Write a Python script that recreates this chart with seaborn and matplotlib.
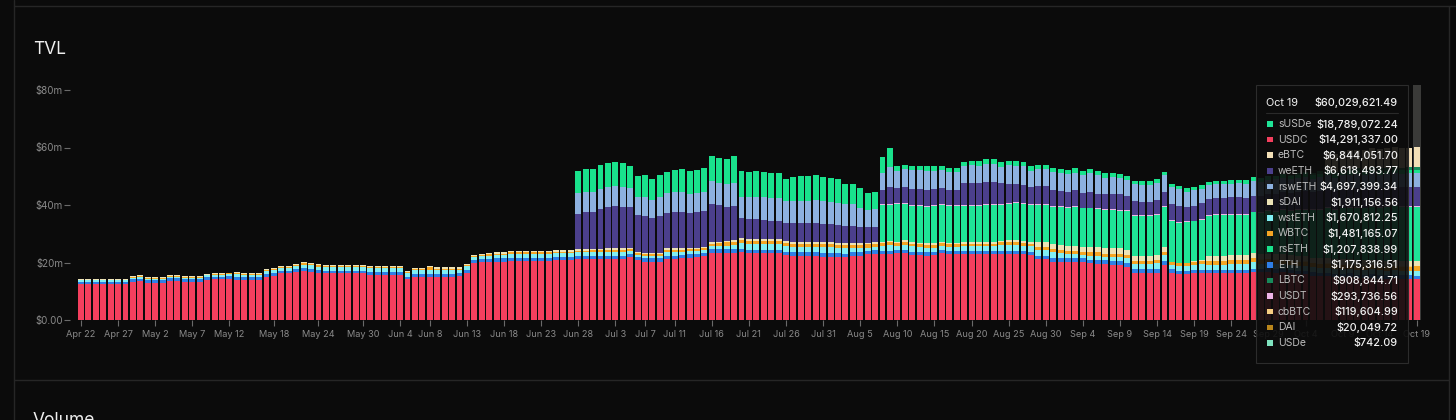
import matplotlib
matplotlib.use("Agg")
import matplotlib.pyplot as plt
from matplotlib.patches import Rectangle
from matplotlib.lines import Line2D
import seaborn as sns
import pandas as pd

# one bar per day
days = pd.date_range("2024-04-22", "2024-10-19", freq="D")
day_labels = [f"{d:%b} {d.day}" for d in days]

tick_labels = ["Apr 22", "Apr 27", "May 2", "May 7", "May 12", "May 18", "May 24",
               "May 30", "Jun 4", "Jun 8", "Jun 13", "Jun 18", "Jun 23", "Jun 28",
               "Jul 3", "Jul 7", "Jul 11", "Jul 16", "Jul 21", "Jul 26", "Jul 31",
               "Aug 5", "Aug 10", "Aug 15", "Aug 20", "Aug 25", "Aug 30", "Sep 4",
               "Sep 9", "Sep 14", "Sep 19", "Sep 24", "Sep 29", "Oct 4", "Oct 9",
               "Oct 14", "Oct 19"]

# TVL per asset in $m, one value per day starting Apr 22
usdc = [12.4, 12.4, 12.4, 12.4, 12.4, 12.4, 12.4, 13.1, 13.4, 12.9,
        12.9, 12.9, 13.7, 13.7, 13.2, 13.2, 13.2, 14.0, 14.2, 14.1,
        14.2, 14.0, 14.0, 14.0, 14.0, 15.1, 15.4, 16.2, 16.2, 16.8,
        17.0, 16.7, 16.2, 16.2, 16.2, 16.2, 16.2, 16.2, 16.2, 15.8,
        15.8, 15.8, 15.8, 15.8, 14.2, 15.1, 15.1, 15.1, 15.1, 15.1,
        15.1, 15.3, 16.5, 19.7, 20.3, 20.3, 20.3, 20.3, 20.6, 20.6,
        20.6, 20.6, 20.6, 20.6, 20.9, 20.9, 20.9, 21.1, 21.1, 21.1,
        21.1, 21.2, 21.2, 21.2, 21.8, 20.9, 20.3, 20.3, 20.3, 21.2,
        21.3, 21.6, 21.7, 21.8, 22.3, 23.4, 23.4, 23.4, 23.4, 23.5,
        23.2, 23.2, 23.2, 23.2, 23.2, 22.6, 22.3, 22.3, 22.3, 22.3,
        22.0, 22.0, 22.0, 21.8, 22.3, 22.3, 22.8, 23.0, 23.0, 23.0,
        23.2, 23.4, 22.6, 22.6, 22.4, 22.6, 23.2, 23.0, 23.0, 23.0,
        23.0, 23.0, 23.0, 23.0, 23.0, 23.0, 23.0, 23.0, 22.6, 21.1,
        21.1, 20.3, 20.3, 20.3, 20.3, 20.1, 19.7, 19.5, 19.4, 19.1,
        19.1, 18.5, 16.5, 16.5, 16.5, 16.5, 19.1, 16.5, 15.9, 15.9,
        16.2, 16.2, 16.2, 16.2, 16.2, 16.2, 16.2, 16.2, 16.6, 16.7,
        16.8, 16.5, 16.6, 16.2, 15.9, 16.0, 15.4, 15.2, 15.3, 14.9,
        14.8, 15.0, 14.6, 14.5, 14.7, 14.4, 14.3, 14.5, 14.3, 14.3,
        14.29]
eth = [0.9, 0.9, 0.9, 0.9, 0.9, 0.9, 0.9, 1.0, 1.0, 0.9,
       0.9, 0.9, 0.9, 0.9, 0.9, 0.9, 0.9, 0.9, 0.9, 0.9,
       1.0, 1.0, 1.0, 1.0, 1.0, 1.0, 1.0, 1.0, 1.0, 1.0,
       1.1, 1.1, 1.1, 1.0, 1.0, 1.0, 1.0, 1.0, 1.0, 1.0,
       1.0, 1.0, 1.0, 1.0, 0.9, 1.0, 1.0, 1.0, 1.0, 1.0,
       1.0, 1.0, 1.0, 1.0, 1.0, 1.0, 1.1, 1.1, 1.1, 1.1,
       1.1, 1.1, 1.1, 1.1, 1.1, 1.1, 1.1, 1.1, 1.1, 1.1,
       1.1, 1.1, 1.1, 1.1, 1.1, 1.1, 1.1, 1.1, 1.1, 1.1,
       1.1, 1.1, 1.1, 1.1, 1.1, 1.2, 1.2, 1.2, 1.2, 1.2,
       1.2, 1.2, 1.2, 1.2, 1.2, 1.2, 1.2, 1.2, 1.2, 1.2,
       1.2, 1.2, 1.2, 1.2, 1.2, 1.2, 1.2, 1.2, 1.1, 1.1,
       1.1, 1.1, 1.1, 1.1, 1.1, 1.1, 1.1, 1.1, 1.1, 1.1,
       1.1, 1.1, 1.1, 1.1, 1.1, 1.1, 1.1, 1.1, 1.1, 1.3,
       1.3, 1.3, 1.3, 1.3, 1.3, 1.3, 1.3, 1.3, 1.3, 1.3,
       1.3, 1.3, 1.3, 1.3, 1.3, 1.3, 1.3, 1.2, 1.2, 1.2,
       1.2, 1.2, 1.2, 1.2, 1.2, 1.2, 1.2, 1.2, 1.2, 1.2,
       1.2, 1.2, 1.2, 1.2, 1.2, 1.2, 1.2, 1.2, 1.2, 1.2,
       1.2, 1.2, 1.2, 1.2, 1.2, 1.2, 1.2, 1.2, 1.2, 1.2,
       1.18]
wsteth = [0.5, 0.5, 0.5, 0.5, 0.5, 0.5, 0.5, 0.6, 0.7, 0.6,
          0.6, 0.6, 0.5, 0.5, 0.6, 0.6, 0.6, 0.6, 0.6, 0.7,
          0.7, 0.9, 0.8, 0.8, 0.8, 0.9, 1.0, 1.0, 1.0, 1.0,
          1.2, 1.2, 1.3, 1.2, 1.2, 1.2, 1.2, 1.2, 1.2, 1.3,
          1.3, 1.3, 1.3, 1.3, 1.2, 1.2, 1.2, 1.3, 1.3, 1.3,
          1.3, 1.2, 1.2, 1.1, 1.0, 1.1, 1.2, 1.2, 1.3, 1.3,
          1.3, 1.3, 1.3, 1.3, 1.3, 1.3, 1.3, 1.3, 1.3, 1.4,
          1.5, 1.5, 1.5, 1.5, 1.2, 0.7, 0.9, 0.9, 0.9, 1.5,
          1.4, 1.1, 1.3, 1.2, 1.0, 1.3, 1.0, 1.3, 1.5, 2.0,
          2.0, 2.0, 2.0, 2.0, 2.0, 2.0, 2.0, 2.0, 2.0, 2.0,
          2.2, 2.1, 1.9, 2.0, 1.5, 1.5, 1.2, 1.1, 1.6, 1.9,
          1.4, 1.7, 1.9, 1.6, 1.6, 1.4, 1.4, 1.2, 1.2, 1.5,
          1.5, 1.5, 1.5, 1.5, 1.9, 2.1, 2.1, 1.8, 1.9, 2.0,
          2.0, 1.9, 1.6, 1.2, 1.2, 1.2, 1.4, 1.6, 1.3, 1.6,
          1.6, 1.6, 1.6, 1.6, 1.6, 1.9, 2.2, 1.5, 1.7, 1.7,
          1.8, 2.1, 1.8, 1.8, 1.8, 2.1, 2.1, 2.1, 2.3, 1.7,
          1.7, 1.7, 1.7, 1.7, 1.7, 1.7, 1.7, 1.7, 1.7, 1.7,
          1.7, 1.7, 1.7, 1.7, 1.7, 1.7, 1.7, 1.7, 1.7, 1.7,
          1.67]
wbtc = [0.2, 0.2, 0.2, 0.2, 0.2, 0.2, 0.2, 0.3, 0.3, 0.3,
        0.3, 0.3, 0.3, 0.3, 0.3, 0.3, 0.3, 0.3, 0.3, 0.3,
        0.3, 0.4, 0.3, 0.3, 0.3, 0.3, 0.3, 0.4, 0.4, 0.4,
        0.4, 0.4, 0.5, 0.4, 0.4, 0.4, 0.4, 0.4, 0.4, 0.4,
        0.4, 0.4, 0.4, 0.4, 0.4, 0.4, 0.4, 0.9, 0.5, 0.5,
        0.5, 0.4, 0.4, 0.4, 0.4, 0.4, 0.5, 0.5, 0.5, 0.5,
        0.5, 0.5, 0.5, 0.5, 0.5, 0.5, 0.5, 0.6, 0.6, 0.6,
        0.6, 0.6, 0.6, 0.6, 0.6, 0.6, 0.6, 0.6, 0.6, 0.6,
        0.6, 0.6, 0.6, 0.6, 0.6, 0.7, 1.1, 1.1, 1.1, 1.1,
        1.1, 1.1, 1.1, 1.1, 1.1, 1.1, 1.1, 1.1, 1.1, 1.1,
        1.1, 1.1, 1.1, 1.1, 1.1, 1.1, 1.1, 1.1, 1.0, 1.0,
        1.0, 1.0, 1.0, 1.0, 1.0, 1.0, 1.0, 1.0, 1.0, 1.0,
        1.0, 1.0, 1.0, 1.0, 1.0, 1.0, 1.0, 1.0, 1.0, 1.1,
        1.1, 1.1, 1.1, 1.1, 1.1, 1.1, 1.1, 1.1, 1.1, 1.1,
        1.1, 1.1, 1.1, 1.1, 1.1, 1.1, 1.1, 1.0, 1.0, 1.0,
        1.0, 1.0, 1.3, 1.3, 1.3, 1.3, 1.3, 1.3, 1.3, 1.4,
        1.4, 1.4, 1.4, 1.4, 1.4, 1.4, 1.4, 1.4, 1.4, 1.4,
        1.4, 1.4, 1.4, 1.4, 1.4, 1.4, 1.4, 1.4, 1.4, 1.4,
        1.48]
sdai = [0.2, 0.2, 0.2, 0.2, 0.2, 0.2, 0.2, 0.2, 0.3, 0.2,
        0.2, 0.2, 0.2, 0.2, 0.2, 0.2, 0.2, 0.2, 0.2, 0.3,
        0.3, 0.3, 0.3, 0.3, 0.3, 0.3, 0.3, 0.3, 0.3, 0.3,
        0.4, 0.4, 0.4, 0.3, 0.3, 0.3, 0.3, 0.3, 0.3, 0.4,
        0.4, 0.4, 0.4, 0.4, 0.3, 0.3, 0.3, 0.4, 0.4, 0.4,
        0.4, 0.4, 0.4, 0.3, 0.3, 0.4, 0.4, 0.4, 0.5, 0.5,
        0.5, 0.5, 0.5, 0.5, 0.5, 0.5, 0.5, 0.5, 0.5, 0.5,
        0.5, 0.5, 0.5, 0.5, 0.5, 0.5, 0.5, 0.5, 0.5, 0.5,
        0.5, 0.5, 0.5, 0.5, 0.5, 0.5, 0.6, 0.6, 0.6, 0.6,
        0.6, 0.6, 0.6, 0.6, 0.6, 0.6, 0.6, 0.6, 0.6, 0.6,
        0.6, 0.6, 0.6, 0.6, 0.6, 0.6, 0.6, 0.6, 0.6, 0.6,
        0.6, 0.6, 0.6, 0.6, 0.6, 0.6, 0.6, 0.6, 0.6, 0.6,
        0.6, 0.6, 0.6, 0.6, 0.6, 0.6, 0.6, 0.6, 0.6, 1.8,
        1.8, 1.8, 1.8, 1.8, 1.8, 1.8, 1.8, 1.8, 1.8, 1.8,
        1.8, 1.8, 1.8, 1.8, 1.8, 1.8, 1.8, 0.1, 0.1, 0.1,
        0.1, 0.1, 1.8, 1.8, 1.8, 1.8, 1.8, 1.8, 1.8, 1.9,
        1.9, 1.9, 1.9, 1.9, 1.9, 1.9, 1.9, 1.9, 1.9, 1.9,
        1.9, 1.9, 1.9, 1.9, 1.9, 1.9, 1.9, 1.9, 1.9, 1.9,
        1.91]

# assets listed later: first day, then daily values in $m
weeth_start = "Jun 28"
weeth = [12.3, 13.1, 13.0, 13.7, 14.5, 14.7, 14.5, 14.2, 12.6, 12.8,
         12.2, 12.8, 12.4, 12.8, 12.8, 11.9, 12.2, 12.5, 13.3, 12.7,
         11.8, 11.8, 7.0, 7.0, 7.0, 6.7, 6.5, 6.5, 6.4, 6.6,
         6.6, 6.6, 6.4, 6.3, 6.4, 6.2, 6.0, 6.0, 5.8, 5.3,
         5.5, 4.7, 6.1, 5.3, 5.4, 5.5, 5.5, 5.5, 5.5, 5.6,
         5.1, 5.1, 7.4, 7.7, 7.4, 7.8, 7.8, 7.2, 6.7, 6.4,
         6.3, 6.1, 6.1, 6.1, 5.5, 5.5, 5.2, 5.5, 5.2, 5.5,
         5.2, 5.2, 5.4, 5.4, 4.8, 4.9, 4.7, 4.7, 4.9, 4.9,
         5.5, 5.7, 4.9, 5.2, 5.5, 5.5, 5.5, 5.5, 5.8, 5.8,
         5.5, 5.5, 5.6, 5.7, 5.9, 6.0, 5.8, 6.1, 6.2, 6.0,
         6.3, 6.4, 6.2, 6.5, 6.4, 6.6, 6.5, 6.7, 6.6, 6.5,
         6.6, 6.7, 6.6, 6.62]
rsweth_start = "Jun 28"
rsweth = [7.1, 6.7, 6.9, 7.1, 7.0, 7.1, 7.0, 6.4, 6.3, 6.5,
          6.1, 6.5, 6.7, 6.7, 6.9, 6.9, 6.6, 6.6, 7.8, 7.6,
          7.8, 7.9, 7.5, 7.8, 7.8, 7.9, 7.8, 7.8, 7.4, 7.6,
          7.6, 7.7, 8.1, 8.0, 7.8, 7.6, 7.5, 7.5, 6.6, 6.1,
          6.0, 6.0, 6.7, 6.0, 6.4, 6.6, 6.8, 6.7, 6.4, 6.4,
          6.2, 6.2, 6.2, 6.1, 6.2, 6.2, 6.2, 5.8, 6.4, 6.4,
          6.4, 5.5, 6.0, 6.0, 6.2, 6.0, 6.1, 6.1, 6.1, 6.4,
          6.4, 5.7, 5.6, 5.6, 5.6, 5.8, 5.8, 5.8, 5.8, 5.8,
          5.9, 5.7, 5.2, 5.4, 4.9, 4.7, 4.9, 4.9, 4.7, 4.9,
          5.0, 5.0, 5.0, 4.9, 5.1, 4.8, 4.9, 4.7, 4.8, 4.6,
          4.8, 4.7, 4.5, 4.7, 4.6, 4.8, 4.7, 4.6, 4.7, 4.8,
          4.7, 4.6, 4.7, 4.70]
rseth_start = "Jun 28"
rseth = [7.8, 8.0, 8.0, 8.2, 8.2, 8.4, 8.2, 7.8, 7.4, 7.6,
         7.3, 7.6, 7.6, 7.8, 7.9, 7.8, 8.2, 8.4, 8.7, 8.7,
         8.7, 9.5, 8.9, 8.6, 8.9, 8.8, 8.9, 8.7, 7.8, 8.2,
         8.6, 8.5, 8.6, 8.5, 8.3, 8.6, 7.2, 7.2, 6.8, 6.0,
         6.0, 5.6, 6.7, 1.5, 1.5, 1.4, 1.4, 1.7, 1.5, 1.4,
         1.6, 1.6, 1.4, 1.5, 1.6, 1.6, 1.6, 1.8, 1.6, 1.7,
         1.5, 1.7, 1.5, 1.5, 1.4, 1.5, 1.5, 1.5, 1.4, 1.4,
         1.4, 1.5, 1.4, 1.5, 1.5, 1.2, 1.2, 1.2, 1.4, 1.2,
         1.2, 1.2, 1.2, 1.1, 1.2, 1.2, 1.2, 1.2, 1.4, 1.2,
         1.4, 1.4, 1.3, 1.4, 1.3, 1.3, 1.2, 1.3, 1.3, 1.2,
         1.2, 1.3, 1.2, 1.2, 1.3, 1.2, 1.2, 1.2, 1.3, 1.2,
         1.2, 1.2, 1.2, 1.21]
susde_start = "Aug 8"
susde = [12.8, 12.4, 13.0, 12.6, 12.6, 12.8, 12.7, 13.0, 12.7, 12.9,
         12.9, 12.6, 12.6, 12.6, 12.8, 12.8, 12.4, 12.6, 12.8, 12.9,
         12.8, 12.8, 12.8, 13.0, 13.1, 13.4, 13.7, 13.3, 13.5, 13.2,
         13.4, 13.4, 13.1, 13.7, 13.9, 13.9, 13.9, 13.9, 13.9, 14.1,
         13.9, 14.3, 13.9, 14.2, 13.9, 14.2, 14.2, 13.9, 13.9, 13.9,
         14.1, 14.2, 14.7, 14.8, 15.4, 15.5, 16.0, 16.1, 16.6, 16.8,
         17.3, 17.2, 17.7, 17.8, 18.1, 18.0, 18.4, 18.3, 18.6, 18.7,
         18.6, 18.8, 18.79]
usdt_start = "Aug 8"
usdt = [0.3, 0.3, 0.3, 0.3, 0.3, 0.3, 0.3, 0.3, 0.3, 0.3,
        0.3, 0.3, 0.3, 0.3, 0.3, 0.3, 0.3, 0.3, 0.3, 0.3,
        0.3, 0.3, 0.3, 0.3, 0.3, 0.3, 0.3, 0.3, 0.3, 0.3,
        0.3, 0.3, 0.3, 0.3, 0.3, 0.3, 0.3, 0.3, 0.3, 0.3,
        0.3, 0.3, 0.3, 0.3, 0.3, 0.3, 0.3, 0.3, 0.3, 0.3,
        0.3, 0.3, 0.3, 0.3, 0.3, 0.3, 0.3, 0.3, 0.3, 0.3,
        0.3, 0.3, 0.3, 0.3, 0.3, 0.3, 0.3, 0.3, 0.3, 0.3,
        0.3, 0.3, 0.29]
cbbtc_start = "Sep 19"
cbbtc = [0.1, 0.1, 0.1, 0.1, 0.1, 0.1, 0.1, 0.1, 0.1, 0.1,
         0.1, 0.1, 0.1, 0.1, 0.1, 0.1, 0.1, 0.1, 0.1, 0.1,
         0.1, 0.1, 0.1, 0.1, 0.1, 0.1, 0.1, 0.1, 0.1, 0.1,
         0.12]
lbtc_start = "Oct 2"
lbtc = [0.4, 0.5, 0.6, 0.7, 0.8, 0.8, 0.9, 0.9, 0.9, 0.9,
        0.9, 0.9, 0.9, 0.9, 0.9, 0.9, 0.9, 0.91]
ebtc_start = "Oct 7"
ebtc = [6.2, 6.4, 6.5, 6.6, 6.5, 6.7, 6.8, 6.7, 6.8, 6.8, 6.9, 6.8, 6.84]
dai_start = "Oct 17"
dai = [0.02, 0.02, 0.02]
usde_start = "Oct 19"
usde = [0.001]

# hover tooltip for Oct 19
tip_date = "Oct 19"
tip_total = 60029621.49
tip_assets = ["sUSDe", "USDC", "eBTC", "weETH", "rswETH", "sDAI", "wstETH", "WBTC",
              "rsETH", "ETH", "LBTC", "USDT", "cbBTC", "DAI", "USDe"]
tip_values = [18789072.24, 14291337.00, 6844051.70, 6618493.77, 4697399.34,
              1911156.56, 1670812.25, 1481165.07, 1207838.99, 1175316.51,
              908844.71, 293736.56, 119604.99, 20049.72, 742.09]

palette = {
    "USDC": "#f43f5e", "ETH": "#2f7fe6", "wstETH": "#80eff4", "WBTC": "#f5a524",
    "cbBTC": "#f6cd82", "sDAI": "#ece3b6", "DAI": "#b8861b", "sUSDe": "#1fe497",
    "USDe": "#7fe3bf", "USDT": "#eeb5e8", "weETH": "#4b3f8c", "rswETH": "#8db1e0",
    "rsETH": "#19e28c", "LBTC": "#178a5b", "eBTC": "#f2dfb6",
}
# bottom -> top
stack_order = ["USDC", "ETH", "wstETH", "WBTC", "cbBTC", "sDAI", "DAI", "sUSDe",
               "USDe", "USDT", "weETH", "rswETH", "rsETH", "LBTC", "eBTC"]

series = {
    "USDC": ("Apr 22", usdc), "ETH": ("Apr 22", eth), "wstETH": ("Apr 22", wsteth),
    "WBTC": ("Apr 22", wbtc), "sDAI": ("Apr 22", sdai),
    "weETH": (weeth_start, weeth), "rswETH": (rsweth_start, rsweth),
    "rsETH": (rseth_start, rseth), "sUSDe": (susde_start, susde),
    "USDT": (usdt_start, usdt), "cbBTC": (cbbtc_start, cbbtc),
    "LBTC": (lbtc_start, lbtc), "eBTC": (ebtc_start, ebtc),
    "DAI": (dai_start, dai), "USDe": (usde_start, usde),
}
rows = []
for name, (start, vals) in series.items():
    first = day_labels.index(start)
    for k, v in enumerate(vals):
        rows.append({"day": first + k, "asset": name, "tvl": v})
df = pd.DataFrame(rows)

bg = "#0b0b0b"
W, H = 1456, 420
sns.set_theme(style="dark", rc={"axes.facecolor": bg, "figure.facecolor": bg})
plt.rcParams["font.family"] = ["Inter", "DejaVu Sans"]


def fx(x):
    return x / W


def fy(y):
    return 1 - y / H


fig = plt.figure(figsize=(W / 100, H / 100), dpi=100)
ax = fig.add_axes([fx(70), fy(320), fx(1425) - fx(70), fy(85) - fy(320)])

# hovered day highlight
ax.axvspan(179.5, 180.5, color="#3a3a38", lw=0, zorder=0)

sns.histplot(data=df, x="day", hue="asset", weights="tvl", discrete=True,
             multiple="stack", hue_order=stack_order[::-1], palette=palette,
             shrink=0.8, alpha=1, linewidth=0, legend=False, ax=ax, zorder=2)

ax.set_xlim(-1.48, 181.1)
ax.set_ylim(0, 235 / 2.875)
ax.set_xlabel("")
ax.set_ylabel("")
for s in ax.spines.values():
    s.set_visible(False)
ax.grid(False)

ax.set_yticks([0, 20, 40, 60, 80])
ax.set_yticklabels(["$0.00", "$20m", "$40m", "$60m", "$80m"])
ax.set_xticks([day_labels.index(t) for t in tick_labels])
ax.set_xticklabels(tick_labels)
ax.tick_params(axis="y", length=4, width=0.8, color="#6a6a6a", pad=1,
               labelsize=7, labelcolor="#8a8a8a", left=True)
ax.tick_params(axis="x", length=4, width=0.8, color="#6a6a6a", pad=3,
               labelsize=6.6, labelcolor="#8a8a8a", bottom=True)

# panel frame
line_c = "#262626"
fig.add_artist(Line2D([fx(14), 1], [fy(6), fy(6)], color=line_c, lw=1))
fig.add_artist(Line2D([fx(14), fx(14)], [0, 1], color=line_c, lw=1))
fig.add_artist(Line2D([fx(1449), fx(1449)], [0, fy(6)], color=line_c, lw=1))
fig.add_artist(Line2D([fx(14), fx(1449)], [fy(380), fy(380)], color=line_c, lw=1))

fig.text(fx(33), fy(54), "TVL", color="#efefef", size=12.5, va="baseline")
fig.text(fx(33), fy(425), "Volume", color="#efefef", size=12.5, va="baseline")

# tooltip
fig.add_artist(Rectangle((fx(1256), fy(363)), fx(152), fy(85) - fy(363),
                         transform=fig.transFigure, facecolor="#0d0d0d",
                         alpha=0.9, edgecolor="none", zorder=5))
fig.add_artist(Rectangle((fx(1256), fy(363)), fx(152), fy(85) - fy(363),
                         transform=fig.transFigure, facecolor="none",
                         edgecolor="#2c2c2c", lw=0.8, zorder=6))
fig.text(fx(1266), fy(103), tip_date, color="#f2f2f2", size=7.8, va="center",
         ha="left", zorder=7)
fig.text(fx(1398), fy(103), f"${tip_total:,.2f}", color="#f2f2f2", size=7.8,
         va="center", ha="right", weight="medium", zorder=7)
fig.add_artist(Line2D([fx(1266), fx(1398)], [fy(113), fy(113)], color="#2a2a2a",
                      lw=0.8, zorder=7))
for k, (name, val) in enumerate(zip(tip_assets, tip_values)):
    y = 124 + 15.64 * k
    fig.add_artist(Rectangle((fx(1267), fy(y + 2.8)), fx(5.6), fy(y - 2.8) - fy(y + 2.8),
                             transform=fig.transFigure, facecolor=palette[name],
                             edgecolor="none", zorder=7))
    fig.text(fx(1278), fy(y), name, color="#bcbcbc", size=7.5, va="center",
             ha="left", zorder=7)
    fig.text(fx(1398), fy(y), f"${val:,.2f}", color="#f2f2f2", size=7.8,
             va="center", ha="right", weight="medium", zorder=7)

fig.savefig("out.png", dpi=100, facecolor=bg)
